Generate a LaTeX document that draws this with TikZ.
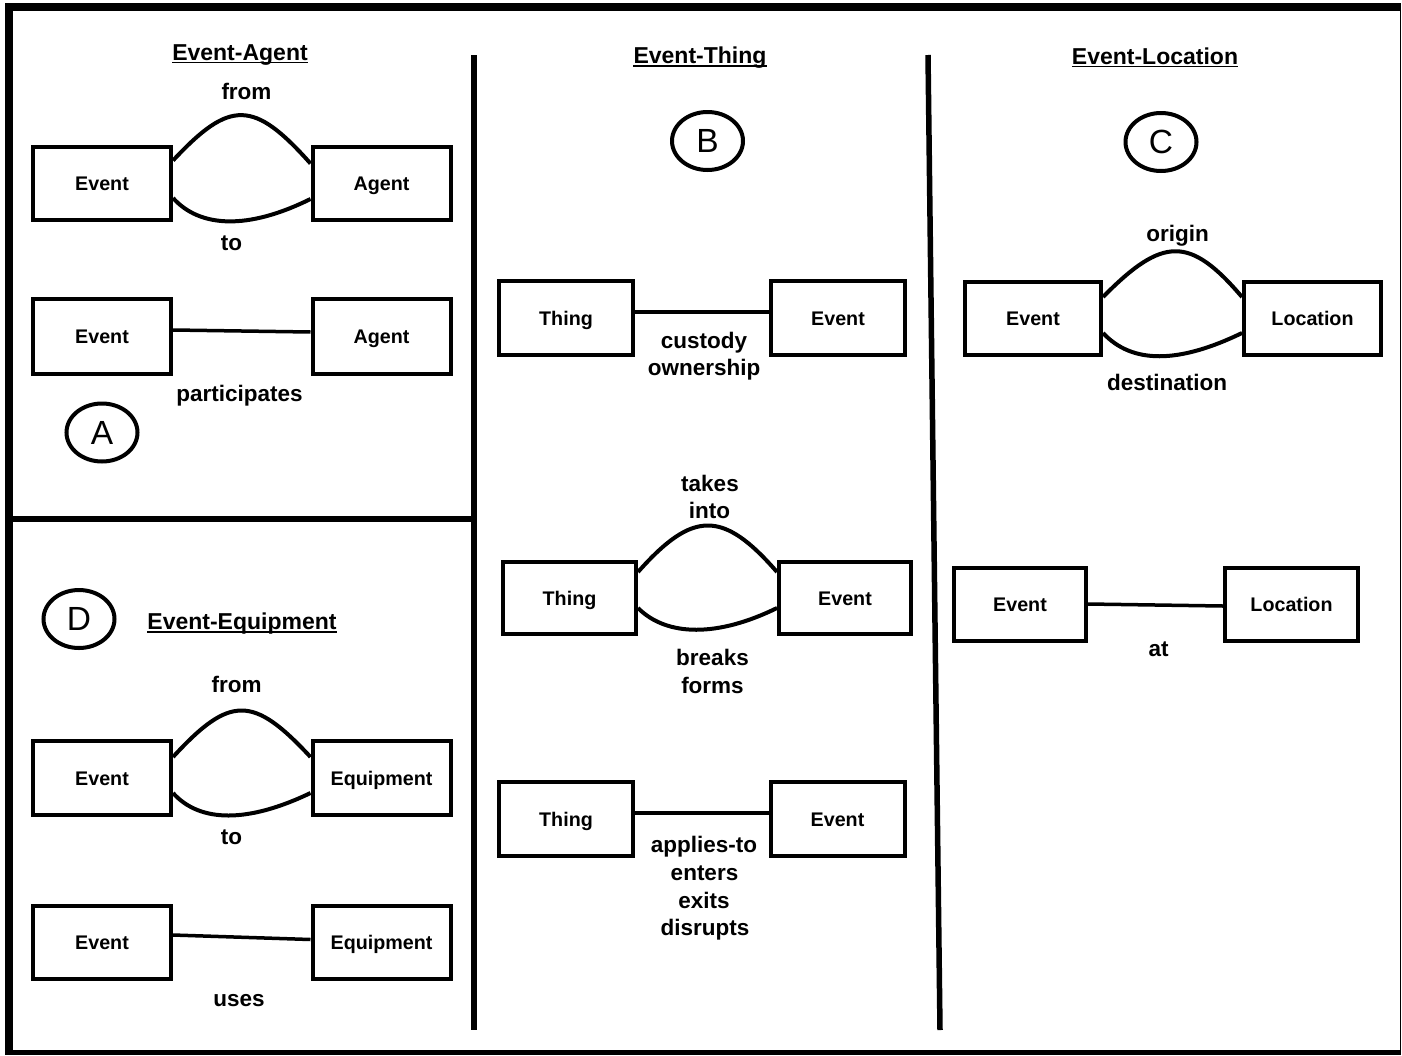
\documentclass[tikz,border=0pt]{standalone}
\usepackage{fontspec}
\setmainfont{Liberation Sans}
\usetikzlibrary{shapes.geometric,calc}
\begin{document}
\begin{tikzpicture}[x=1pt,y=-1pt,
  ebox/.style={draw,line width=4pt,minimum width=#1,minimum height=74pt,inner sep=0pt,
    text height=14.2pt,text depth=0pt,font=\fontsize{19.7}{22}\selectfont\bfseries},
  ebox/.default=136pt,
  lbl/.style={anchor=base,inner sep=0pt,font=\fontsize{22.5}{26}\selectfont\bfseries},
  ttl/.style={anchor=base,inner sep=0pt,font=\fontsize{23}{27}\selectfont\bfseries},
  tag/.style={draw,ellipse,line width=4pt,minimum width=71pt,minimum height=58pt,inner sep=0pt,
    font=\fontsize{33.5}{38}\selectfont},
  arcline/.style={line width=4pt},
  link/.style={line width=3.5pt},
  sepline/.style={line width=5.5pt},
  uline/.style={line width=1.8pt}]
\useasboundingbox (0,0) rectangle (1402,1055);
% frame
\fill[white] (0,0) rectangle (1402,1055);
\fill[black] (5,3) rectangle (1401,1055);
\fill[white] (13,11) rectangle (1400,1050);
% separators
\coordinate (s1t) at (474,55); \coordinate (s1b) at (474,1030);
\coordinate (s2t) at (928,55); \coordinate (s2b) at (940,1030);
\coordinate (hl) at (13,519); \coordinate (hr) at (474,519);
\draw[sepline] (s1t) -- (s1b);
\draw[sepline] (s2t) -- (s2b);
\draw[sepline] (hl) -- (hr);

% ---------- Panel A ----------
\node[ttl] (tA) at (240,60) {Event-Agent};
\draw[uline] ($(tA.base west)+(0,2.5)$) -- ($(tA.base east)+(0,2.5)$);
\node[lbl] (fromA) at (246.5,99) {from};
\node[ebox=138pt,minimum height=73pt] (ea1) at (102,183.5) {Event};
\node[ebox=138pt,minimum height=73pt] (aa1) at (381.5,183.5) {Agent};
\draw[arcline] ($(ea1.east)+(0,-23)$) .. controls ($(ea1.east)+(57,-84)$) and ($(aa1.west)+(-57,-84)$) .. ($(aa1.west)+(0,-20)$);
\draw[arcline] ($(ea1.east)+(0,14.5)$) .. controls ($(ea1.east)+(27,44.5)$) and ($(aa1.west)+(-62.5,46.5)$) .. ($(aa1.west)+(0,15.5)$);
\node[lbl] (toA) at (231.5,250) {to};
\node[ebox=138pt,minimum height=75pt] (ea2) at (102,336.5) {Event};
\node[ebox=138pt,minimum height=75pt] (aa2) at (381.5,336.5) {Agent};
\draw[link] ($(ea2.east)+(0,-6.5)$) -- ($(aa2.west)+(0,-4.5)$);
\node[lbl] (partA) at (239.5,401) {participates};
\node[tag] (cA) at (102,432.5) {A};

% ---------- Panel D ----------
\node[tag] (cD) at (79,619) {D};
\node[ttl] (tD) at (242,629.5) {Event-Equipment};
\draw[uline] ($(tD.base west)+(0,2.5)$) -- ($(tD.base east)+(0,2.5)$);
\node[lbl] (fromD) at (236.6,692) {from};
\node[ebox=138pt] (ed1) at (102,778) {Event};
\node[ebox=138pt] (qd1) at (381.5,778) {Equipment};
\draw[arcline] ($(ed1.east)+(0,-21)$) .. controls ($(ed1.east)+(57,-83)$) and ($(qd1.west)+(-57.5,-83)$) .. ($(qd1.west)+(0,-21)$);
\draw[arcline] ($(ed1.east)+(0,15)$) .. controls ($(ed1.east)+(27,45)$) and ($(qd1.west)+(-62.5,45)$) .. ($(qd1.west)+(0,15)$);
\node[lbl] (toD) at (231.5,844) {to};
\node[ebox=138pt,minimum height=73pt] (ed2) at (102,942.5) {Event};
\node[ebox=138pt,minimum height=73pt] (qd2) at (381.5,942.5) {Equipment};
\draw[link] ($(ed2.east)+(0,-7.5)$) -- ($(qd2.west)+(0,-3)$);
\node[lbl] (usesD) at (239,1006) {uses};

% ---------- Panel B ----------
\node[ttl] (tB) at (700,63.5) {Event-Thing};
\draw[uline] ($(tB.base west)+(0,2.5)$) -- ($(tB.base east)+(0,2.5)$);
\node[tag] (cB) at (707.5,141) {B};
\node[ebox=134pt] (tb1) at (566,318) {Thing};
\node[ebox=134pt] (eb1) at (838,318) {Event};
\draw[link] ($(tb1.east)+(0,-6)$) -- ($(eb1.west)+(0,-6)$);
\node[lbl] (custB) at (704,348) {custody};
\node[lbl] (ownB) at (704,375) {ownership};
\node[lbl] (takesB) at (710,491) {takes};
\node[lbl] (intoB) at (709.5,518) {into};
\node[ebox=133pt,minimum height=72pt] (tb2) at (569.5,598) {Thing};
\node[ebox=132pt,minimum height=72pt] (eb2) at (845,598) {Event};
\draw[arcline] ($(tb2.east)+(0,-26)$) .. controls ($(tb2.east)+(55,-88)$) and ($(eb2.west)+(-54,-88)$) .. ($(eb2.west)+(0,-26)$);
\draw[arcline] ($(tb2.east)+(0,10)$) .. controls ($(tb2.east)+(29,39)$) and ($(eb2.west)+(-59,39)$) .. ($(eb2.west)+(0,10)$);
\node[lbl] (breaksB) at (712.5,665) {breaks};
\node[lbl] (formsB) at (712.5,693) {forms};
\node[ebox=134pt] (tb3) at (566,819) {Thing};
\node[ebox=134pt] (eb3) at (837.5,819) {Event};
\draw[link] ($(tb3.east)+(0,-6)$) -- ($(eb3.west)+(0,-6)$);
\node[lbl] (appB) at (704,852) {applies-to};
\node[lbl] (entB) at (704.5,880) {enters};
\node[lbl] (exiB) at (704,908) {exits};
\node[lbl] (disB) at (705,935) {disrupts};

% ---------- Panel C ----------
\node[ttl] (tC) at (1155,64) {Event-Location};
\draw[uline] ($(tC.base west)+(0,2.5)$) -- ($(tC.base east)+(0,2.5)$);
\node[tag] (cC) at (1161,142) {C};
\node[lbl] (origC) at (1177.5,241) {origin};
\node[ebox=136pt,minimum height=73pt] (ec1) at (1033,318.5) {Event};
\node[ebox=137pt,minimum height=73pt] (lc1) at (1312.5,318.5) {Location};
\draw[arcline] ($(ec1.east)+(0,-21.5)$) .. controls ($(ec1.east)+(60,-82.5)$) and ($(lc1.west)+(-52,-82.5)$) .. ($(lc1.west)+(0,-21.5)$);
\draw[arcline] ($(ec1.east)+(0,14.5)$) .. controls ($(ec1.east)+(29,45.5)$) and ($(lc1.west)+(-64,45.5)$) .. ($(lc1.west)+(0,14.5)$);
\node[lbl] (destC) at (1167,390) {destination};
\node[ebox=132pt,minimum height=73pt] (ec2) at (1020,604.5) {Event};
\node[ebox=133pt,minimum height=73pt] (lc2) at (1291.5,604.5) {Location};
\draw[link] ($(ec2.east)+(0,-0.5)$) -- ($(lc2.west)+(0,1.5)$);
\node[lbl] (atC) at (1158.7,656) {at};
\end{tikzpicture}
\end{document}
